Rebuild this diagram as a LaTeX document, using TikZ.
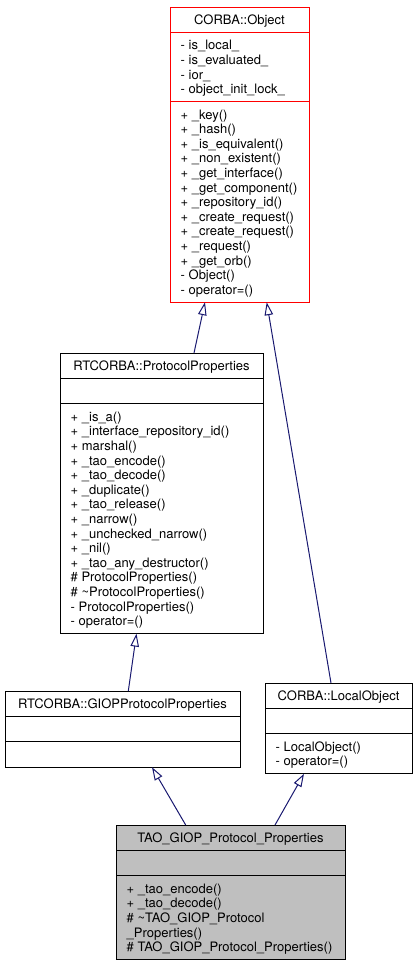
\documentclass[tikz,border=0pt]{standalone}
\usepackage{fontspec}
\setmainfont{TeX Gyre Heros}
\usetikzlibrary{arrows.meta}
\definecolor{arrowblue}{HTML}{191970}
\definecolor{taogray}{HTML}{BFBFBF}
\definecolor{objred}{HTML}{FF0000}
\tikzset{
  umlfont/.style={font=\fontsize{13bp}{14.6bp}\selectfont},
  cls/.style={draw=black, line width=1bp, fill=white, anchor=north west, inner sep=0pt, outer sep=0pt},
  ttl/.style={umlfont, anchor=base, inner sep=0pt},
  mem/.style={umlfont, anchor=north west, align=left, inner sep=0pt},
  sep/.style={line width=1bp},
  inherit/.style={draw=arrowblue, line width=1bp, -{Triangle[open, length=13bp, width=8.5bp]}}
}
\begin{document}
\begin{tikzpicture}[x=1bp,y=-1bp]
\useasboundingbox (0,0) rectangle (417,965);

% CORBA::Object
\node[cls, draw=objred, minimum width=139bp, minimum height=295.2bp] (obj) at (170,7) {};
\draw[sep, objred] ([yshift=-25.4bp]obj.north west) -- ([yshift=-25.4bp]obj.north east);
\draw[sep, objred] ([yshift=-94.6bp]obj.north west) -- ([yshift=-94.6bp]obj.north east);
\node[ttl] (objT) at ([yshift=-17.35bp]obj.north) {CORBA::Object};
\node[mem] (objA) at ([xshift=10.5bp,yshift=-32.53bp]obj.north west) {\strut - is\_local\_\\\strut - is\_evaluated\_\\\strut - ior\_\\\strut - object\_init\_lock\_};
\node[mem] (objM) at ([xshift=10.5bp,yshift=-101.73bp]obj.north west) {\strut + \_key()\\\strut + \_hash()\\\strut + \_is\_equivalent()\\\strut + \_non\_existent()\\\strut + \_get\_interface()\\\strut + \_get\_component()\\\strut + \_repository\_id()\\\strut + \_create\_request()\\\strut + \_create\_request()\\\strut + \_request()\\\strut + \_get\_orb()\\\strut - Object()\\\strut - operator=()};

% RTCORBA::ProtocolProperties
\node[cls, minimum width=203bp, minimum height=280.6bp] (pp) at (60,353) {};
\draw[sep] ([yshift=-25.4bp]pp.north west) -- ([yshift=-25.4bp]pp.north east);
\draw[sep] ([yshift=-50.8bp]pp.north west) -- ([yshift=-50.8bp]pp.north east);
\node[ttl] (ppT) at ([yshift=-17.35bp]pp.north) {RTCORBA::ProtocolProperties};
\node[mem] (ppM) at ([xshift=10.5bp,yshift=-57.93bp]pp.north west) {\strut + \_is\_a()\\\strut + \_interface\_repository\_id()\\\strut + marshal()\\\strut + \_tao\_encode()\\\strut + \_tao\_decode()\\\strut + \_duplicate()\\\strut + \_tao\_release()\\\strut + \_narrow()\\\strut + \_unchecked\_narrow()\\\strut + \_nil()\\\strut + \_tao\_any\_destructor()\\\strut \# ProtocolProperties()\\\strut \# \textasciitilde ProtocolProperties()\\\strut - ProtocolProperties()\\\strut - operator=()};

% RTCORBA::GIOPProtocolProperties
\node[cls, minimum width=235bp, minimum height=76.2bp] (giop) at (5,691) {};
\draw[sep] ([yshift=-25.4bp]giop.north west) -- ([yshift=-25.4bp]giop.north east);
\draw[sep] ([yshift=-50.8bp]giop.north west) -- ([yshift=-50.8bp]giop.north east);
\node[ttl] (giopT) at ([yshift=-17.35bp]giop.north) {RTCORBA::GIOPProtocolProperties};

% CORBA::LocalObject
\node[cls, minimum width=147bp, minimum height=90.8bp] (lo) at (265,683) {};
\draw[sep] ([yshift=-25.4bp]lo.north west) -- ([yshift=-25.4bp]lo.north east);
\draw[sep] ([yshift=-50.8bp]lo.north west) -- ([yshift=-50.8bp]lo.north east);
\node[ttl] (loT) at ([yshift=-17.35bp]lo.north) {CORBA::LocalObject};
\node[mem] (loM) at ([xshift=10.5bp,yshift=-57.93bp]lo.north west) {\strut - LocalObject()\\\strut - operator=()};

% TAO_GIOP_Protocol_Properties
\node[cls, fill=taogray, minimum width=229bp, minimum height=134.6bp] (tao) at (116,825) {};
\draw[sep] ([yshift=-25.4bp]tao.north west) -- ([yshift=-25.4bp]tao.north east);
\draw[sep] ([yshift=-50.8bp]tao.north west) -- ([yshift=-50.8bp]tao.north east);
\node[ttl] (taoT) at ([yshift=-17.35bp]tao.north) {TAO\_GIOP\_Protocol\_Properties};
\node[mem] (taoM) at ([xshift=10.5bp,yshift=-57.93bp]tao.north west) {\strut + \_tao\_encode()\\\strut + \_tao\_decode()\\\strut \# \textasciitilde TAO\_GIOP\_Protocol\\\strut \_Properties()\\\strut \# TAO\_GIOP\_Protocol\_Properties()};

% inheritance connectors
\draw[inherit] ([xshift=134bp]pp.north west) -- ([xshift=35bp]obj.south west);
\draw[inherit] ([xshift=66bp]lo.north west) -- ([xshift=96.7bp]obj.south west);
\draw[inherit] ([xshift=123.3bp]giop.north west) -- ([xshift=76.5bp]pp.south west);
\draw[inherit] ([xshift=69.7bp]tao.north west) -- ([xshift=147bp]giop.south west);
\draw[inherit] ([xshift=159bp]tao.north west) -- ([xshift=39bp]lo.south west);
\end{tikzpicture}
\end{document}
